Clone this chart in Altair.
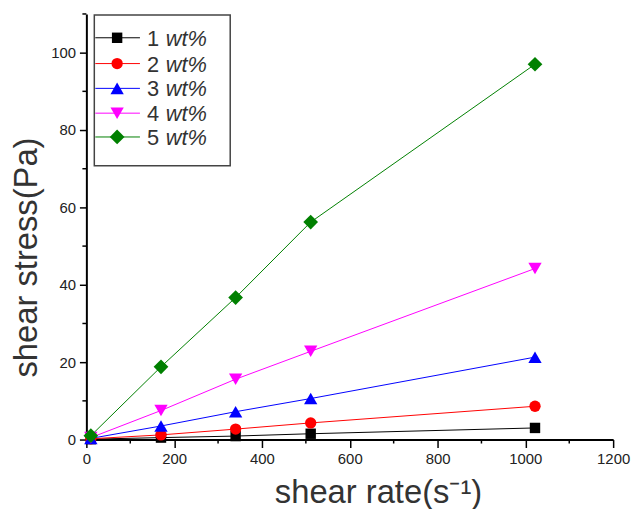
import altair as alt
import pandas as pd

rates = [10.2, 170, 340, 511, 1022]
series_names = ["1 wt%", "2 wt%", "3 wt%", "4 wt%", "5 wt%"]
s1 = [0.1, 0.5, 0.9, 1.5, 3.0]
s2 = [0.2, 1.2, 2.7, 4.3, 8.6]
s3 = [0.3, 3.5, 7.2, 10.6, 21.3]
s4 = [0.5, 7.5, 15.6, 22.8, 44.2]
s5 = [1.0, 18.8, 36.7, 56.2, 97.0]
colors = ["#000000", "#ff0000", "#0000ff", "#ff00ff", "#008000"]
shapes = ["square", "circle", "triangle-up", "triangle-down", "diamond"]
sizes = [110, 130, 180, 180, 220]
x_ticks = [0, 200, 400, 600, 800, 1000, 1200]
x_minor = [100, 300, 500, 700, 900, 1100]
y_ticks = [0, 20, 40, 60, 80, 100]
y_minor = [10, 30, 50, 70, 90, 110]

rows = []
for i, (name, vals) in enumerate(zip(series_names, [s1, s2, s3, s4, s5])):
    for r, v in zip(rates, vals):
        rows.append({"rate": r, "stress": v, "series": name, "order": i})
df = pd.DataFrame(rows)

W, H = 531, 429
xscale = alt.Scale(domain=[0, 1200], nice=False, zero=False)
yscale = alt.Scale(domain=[0, 110], nice=False)
color = alt.Color("series:N", scale=alt.Scale(domain=series_names, range=colors), legend=None)
shape = alt.Shape("series:N", scale=alt.Scale(domain=series_names, range=shapes), legend=None)
size = alt.Size("series:N", scale=alt.Scale(type="ordinal", domain=series_names, range=sizes),
                legend=None)

X = alt.X("rate:Q", scale=xscale, title="shear rate(s\u207b\u00b9)",
          axis=alt.Axis(values=x_ticks, format="d", grid=False, tickSize=8, labelPadding=4,
                        labelFlush=False, titleX=294, titleY=63,
                        titleBaseline="alphabetic", titleAlign="center"))
Y = alt.Y("stress:Q", scale=yscale, title="shear  stress(Pa)",
          axis=alt.Axis(values=y_ticks, format="d", grid=False, tickSize=7, labelPadding=4,
                        titleX=-50, titleY=245, titleBaseline="alphabetic",
                        titleAlign="center", titleAngle=270))

lines = alt.Chart(df).mark_line(strokeWidth=1).encode(x=X, y=Y, color=color, detail="series:N")
points = alt.Chart(df).mark_point(filled=True, opacity=1).encode(
    x=alt.X("rate:Q", scale=xscale), y=alt.Y("stress:Q", scale=yscale),
    color=color, shape=shape, size=size, order=alt.Order("order:Q"))

xm = pd.DataFrame({"v": x_minor})
ym = pd.DataFrame({"v": y_minor})
xminor = alt.Chart(xm).mark_rule(color="black", strokeWidth=1.5, clip=False).encode(
    x=alt.X("v:Q", scale=xscale), y=alt.value(H), y2=alt.value(H + 4))
yminor = alt.Chart(ym).mark_rule(color="black", strokeWidth=1.5, clip=False).encode(
    y=alt.Y("v:Q", scale=yscale), x=alt.value(0), x2=alt.value(-4))

# manual legend
leg = []
lx0, ly0, lx1, ly1 = 8, 1, 145, 153
leg.append(alt.Chart(pd.DataFrame({"a": [0]})).mark_rect(
    fill="white", stroke="#444", strokeWidth=1.5).encode(
    x=alt.value(lx0), x2=alt.value(lx1), y=alt.value(ly0), y2=alt.value(ly1)))
row_y = [24, 50, 75, 100, 124]
for i, name in enumerate(series_names):
    yy = row_y[i]
    one = pd.DataFrame({"n": [name.split(" ")[0]], "w": ["wt%"], "s": [name]})
    base = alt.Chart(one)
    leg.append(base.mark_rule(color=colors[i], strokeWidth=1).encode(
        x=alt.value(9), x2=alt.value(54), y=alt.value(yy)))
    leg.append(base.mark_point(filled=True, opacity=1, size=sizes[i], shape=shapes[i],
                               color=colors[i]).encode(x=alt.value(31), y=alt.value(yy)))
    leg.append(base.mark_text(align="left", baseline="middle", fontSize=22,
                              font="Liberation Sans", color="#333").encode(
        x=alt.value(61), y=alt.value(yy + 1), text="n:N"))
    leg.append(base.mark_text(align="left", baseline="middle", fontSize=22,
                              font="Liberation Sans", fontStyle="italic", color="#333").encode(
        x=alt.value(80), y=alt.value(yy + 1), text="w:N"))

chart = alt.layer(lines, points, xminor, yminor, *leg).properties(
    width=W, height=H,
    autosize=alt.AutoSizeParams(type="none"),
    padding={"left": 79, "top": 4, "right": 18, "bottom": 68},
).configure_view(stroke=None).configure_axis(
    domainColor="black", domainWidth=2, tickColor="black", tickWidth=1.5,
    labelFont="Liberation Sans", labelFontSize=15, labelColor="#222",
    titleFont="Liberation Sans", titleFontSize=33, titleFontWeight="normal",
    titleColor="#333",
)

chart.save("out.html", embed_options={"renderer": "svg", "actions": False})
